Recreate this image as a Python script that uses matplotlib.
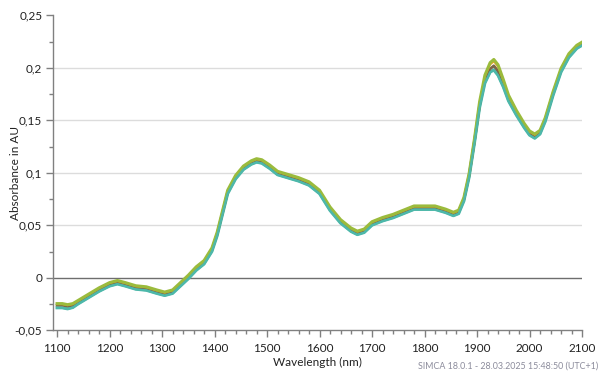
import matplotlib
matplotlib.use("Agg")
import matplotlib.pyplot as plt
from matplotlib.ticker import MultipleLocator, FuncFormatter

plt.rcParams['font.family'] = ['Lato', 'DejaVu Sans']

wavelength = [1100, 1110, 1120, 1130, 1140, 1160, 1180, 1200, 1215, 1230,
              1250, 1270, 1290, 1305, 1320, 1335, 1350, 1365, 1380, 1395,
              1405, 1415, 1425, 1440, 1455, 1470, 1480, 1490, 1505, 1520,
              1540, 1560, 1580, 1600, 1620, 1640, 1660, 1672, 1685, 1700,
              1720, 1740, 1760, 1780, 1800, 1820, 1840, 1855, 1865, 1875,
              1885, 1895, 1905, 1915, 1925, 1932, 1940, 1950, 1960, 1975,
              1990, 2000, 2010, 2020, 2030, 2045, 2060, 2075, 2090, 2100]

brown = [-0.026, -0.026, -0.027, -0.026, -0.023, -0.017, -0.011, -0.006, -0.004, -0.006,
         -0.009, -0.010, -0.013, -0.015, -0.013, -0.006, 0.001, 0.009, 0.015, 0.027,
         0.042, 0.062, 0.082, 0.096, 0.105, 0.110, 0.112, 0.111, 0.106, 0.100,
         0.097, 0.094, 0.090, 0.082, 0.066, 0.054, 0.046, 0.043, 0.045, 0.052,
         0.056, 0.059, 0.063, 0.067, 0.067, 0.067, 0.064, 0.061, 0.063, 0.075,
         0.098, 0.130, 0.165, 0.189, 0.199, 0.202, 0.197, 0.185, 0.171, 0.157,
         0.145, 0.138, 0.135, 0.139, 0.151, 0.176, 0.198, 0.212, 0.220, 0.223]

olive = [-0.0245, -0.0245, -0.0255, -0.0245, -0.0215, -0.0155, -0.0095, -0.0045, -0.0025, -0.0045,
         -0.0075, -0.0085, -0.0115, -0.0135, -0.0115, -0.0045, 0.0025, 0.0105, 0.0165, 0.0285,
         0.0435, 0.0635, 0.0835, 0.0975, 0.1065, 0.1115, 0.1135, 0.1125, 0.1075, 0.1015,
         0.0985, 0.0955, 0.0915, 0.0835, 0.0675, 0.0555, 0.0475, 0.0445, 0.0465, 0.0535,
         0.0575, 0.0605, 0.0645, 0.0685, 0.0685, 0.0685, 0.0655, 0.0625, 0.0645, 0.0765,
         0.0995, 0.1320, 0.1680, 0.1930, 0.2050, 0.2080, 0.2030, 0.1890, 0.1740, 0.1595,
         0.1470, 0.1400, 0.1370, 0.1405, 0.1525, 0.1775, 0.1995, 0.2135, 0.2215, 0.2245]

orange = [-0.0252, -0.0252, -0.0262, -0.0252, -0.0222, -0.0162, -0.0102, -0.0052, -0.0032, -0.0052,
          -0.0082, -0.0092, -0.0122, -0.0142, -0.0122, -0.0052, 0.0018, 0.0098, 0.0158, 0.0278,
          0.0428, 0.0628, 0.0828, 0.0968, 0.1058, 0.1108, 0.1128, 0.1118, 0.1068, 0.1008,
          0.0978, 0.0948, 0.0908, 0.0828, 0.0668, 0.0548, 0.0468, 0.0438, 0.0458, 0.0528,
          0.0568, 0.0598, 0.0638, 0.0678, 0.0678, 0.0678, 0.0648, 0.0618, 0.0638, 0.0758,
          0.0988, 0.1312, 0.1670, 0.1915, 0.2030, 0.2060, 0.2010, 0.1880, 0.1730, 0.1585,
          0.1460, 0.1390, 0.1360, 0.1398, 0.1518, 0.1768, 0.1988, 0.2128, 0.2208, 0.2238]

teal = [-0.0285, -0.0285, -0.0295, -0.0282, -0.0248, -0.0188, -0.0128, -0.0078, -0.0058, -0.0078,
        -0.0108, -0.0118, -0.0148, -0.0168, -0.0148, -0.0078, -0.0008, 0.0072, 0.0132, 0.0252,
        0.0402, 0.0602, 0.0802, 0.0942, 0.1032, 0.1082, 0.1102, 0.1092, 0.1042, 0.0982,
        0.0952, 0.0922, 0.0882, 0.0802, 0.0642, 0.0522, 0.0442, 0.0412, 0.0432, 0.0502,
        0.0542, 0.0572, 0.0612, 0.0652, 0.0652, 0.0652, 0.0622, 0.0592, 0.0612, 0.0732,
        0.0960, 0.1280, 0.1625, 0.1855, 0.1960, 0.1980, 0.1930, 0.1820, 0.1685, 0.1550,
        0.1430, 0.1360, 0.1330, 0.1370, 0.1490, 0.1740, 0.1960, 0.2100, 0.2185, 0.2215]

series = [
    (teal, '#4db8aa', 2.2),
    (brown, '#7a6748', 2.0),
    (orange, '#e8a020', 1.2),
    (olive, '#9bbb3c', 2.2),
]

yticks = [-0.05, 0, 0.05, 0.1, 0.15, 0.2, 0.25]

fig = plt.figure(figsize=(6, 3.75), dpi=100)
ax = fig.add_axes([0.089, 0.119, 0.881, 0.840])

for v in [0.05, 0.1, 0.15, 0.2]:
    ax.axhline(v, color='#dcdcdc', lw=1.0, zorder=0)
ax.axhline(0, color='#6e6e6e', lw=1.0, zorder=1)

for vals, col, lw in series:
    ax.plot(wavelength, vals, color=col, lw=lw, zorder=2, solid_joinstyle='round')
ax.plot(wavelength, teal, color='#4db8aa', lw=1.6, zorder=2)

ax.set_xlim(1093, 2100)
ax.set_ylim(-0.05, 0.25)
ax.xaxis.set_major_locator(MultipleLocator(100))
ax.xaxis.set_minor_locator(MultipleLocator(20))
ax.set_yticks(yticks)
ax.yaxis.set_minor_locator(MultipleLocator(0.025))

def fmt(v, pos):
    return ('%g' % round(v, 4)).replace('.', ',')
ax.yaxis.set_major_formatter(FuncFormatter(fmt))

for sp in ['top', 'right']:
    ax.spines[sp].set_visible(False)
for sp in ['left', 'bottom']:
    ax.spines[sp].set_color('#808080')
    ax.spines[sp].set_linewidth(1.0)

ax.tick_params(axis='both', which='major', colors='#808080', length=5, width=1,
               labelcolor='#222222', labelsize=8.5)
ax.tick_params(axis='both', which='minor', colors='#808080', length=3, width=1)
ax.tick_params(axis='x', pad=4)
ax.tick_params(axis='y', pad=3)

ax.set_xlabel('Wavelength (nm)', fontsize=8.5, color='#222222', labelpad=2)
ax.set_ylabel('Absorbance in AU', fontsize=8.5, color='#222222')
ax.yaxis.set_label_coords(-0.061, 0.5)

fig.text(0.997, 0.013, 'SIMCA 18.0.1 - 28.03.2025 15:48:50 (UTC+1)', ha='right', va='bottom',
         fontsize=6.4, color='#8c8c9c')

fig.savefig('out.png', dpi=100)
